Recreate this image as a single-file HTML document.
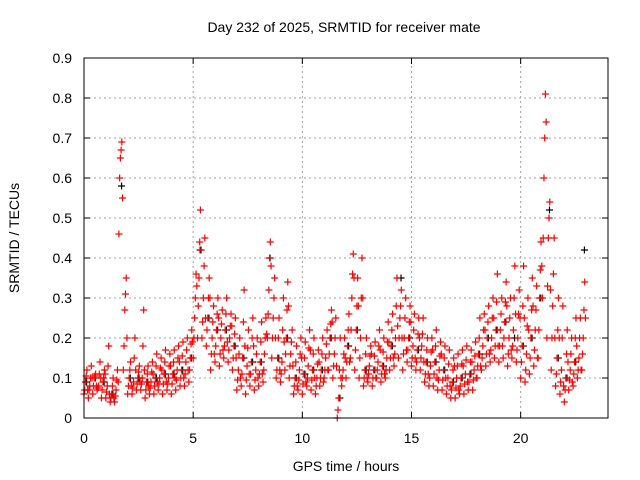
<!DOCTYPE html>
<html><head><meta charset="utf-8"><style>
body{margin:0;background:#fff}
svg{display:block;font-family:"Liberation Sans",sans-serif;font-size:14px;fill:#000}
</style></head><body>
<svg id="chart" width="640" height="480" viewBox="0 0 640 480">
<rect width="640" height="480" fill="#fff"/>
<g id="grid"></g>
<g id="ticks"></g>
<g id="black"></g>
<g id="red"></g>
<rect x="84" y="58" width="524" height="360" fill="none" stroke="#000" stroke-width="1"/>
<text x="344" y="32" text-anchor="middle">Day 232 of 2025, SRMTID for receiver mate</text>
<text x="346" y="471" text-anchor="middle">GPS time / hours</text>
<text transform="translate(19,238) rotate(-90)" text-anchor="middle">SRMTID / TECUs</text>
</svg>
<script>
const xTicks=[0,5,10,15,20];
const yTicks=[0,0.1,0.2,0.3,0.4,0.5,0.6,0.7,0.8,0.9];
const yTickLabels=["0","0.1","0.2","0.3","0.4","0.5","0.6","0.7","0.8","0.9"];
const step=0.2;
const redA=[.06,.05,.06,.07,.05,.05,.04,.04,.46,.12,.06,.06,.07,.07,.05,.06,.06,.07,.06,.07,.06,.07,.08,.08,.09,.15,.2,.2,.18,.12,.14,.13,.15,.14,.12,.07,.08,.06,.08,.07,.08,.09,.2,.15,.1,.09,.12,.1,.06,.07,.06,.08,.07,.06,.08,.1,.12,.1,0,.08,.1,.15,.12,.1,.08,.09,.08,.1,.09,.1,.12,.13,.15,.12,.14,.13,.12,.12,.09,.08,.08,.07,.07,.06,.05,.05,.06,.06,.07,.07,.1,.12,.13,.14,.15,.14,.15,.13,.15,.14,.1,.09,.11,.13,.15,.3,.2,.12,.08,.06,.04,.07,.08,.1,.12];
const redE=[.07,.07,.08,.075,.07,.065,.05,.055,.6,.18,.08,.075,.085,.085,.07,.075,.08,.085,.085,.085,.085,.095,.1,.11,.12,.2,.28,.24,.22,.16,.18,.16,.18,.17,.15,.095,.11,.095,.11,.095,.11,.12,.26,.2,.12,.11,.16,.13,.08,.095,.085,.1,.095,.08,.1,.12,.16,.13,.02,.1,.14,.22,.17,.15,.1,.11,.1,.12,.11,.12,.15,.16,.2,.16,.17,.15,.14,.15,.11,.1,.11,.095,.095,.08,.07,.075,.08,.085,.09,.095,.13,.15,.16,.17,.18,.18,.2,.16,.18,.17,.14,.12,.15,.17,.22,.45,.33,.2,.11,.09,.07,.095,.11,.12,.16];
const redB=[.09,.08,.1,.08,.09,.08,.06,.07,.65,.27,.1,.09,.1,.1,.09,.09,.1,.1,.11,.1,.11,.12,.12,.14,.15,.25,.35,.3,.25,.2,.22,.2,.22,.2,.18,.12,.15,.13,.14,.12,.14,.16,.32,.25,.15,.14,.2,.16,.1,.12,.11,.13,.12,.1,.12,.15,.2,.16,.05,.12,.18,.3,.22,.2,.12,.13,.12,.14,.13,.15,.18,.2,.25,.2,.2,.18,.17,.18,.14,.13,.14,.12,.12,.1,.09,.1,.1,.11,.11,.12,.16,.18,.2,.2,.22,.22,.24,.2,.22,.2,.18,.16,.2,.22,.3,.6,.45,.28,.15,.12,.1,.12,.14,.15,.2];
const redF=[.105,.1,.105,.11,.1,.13,.08,.095,.67,.31,.12,.15,.115,.18,.11,.115,.13,.125,.14,.13,.14,.15,.155,.17,.185,.3,.44,.38,.3,.24,.26,.235,.26,.23,.21,.16,.24,.175,.2,.16,.19,.2,.4,.3,.2,.22,.27,.19,.14,.16,.15,.175,.16,.135,.16,.185,.235,.2,.12,.16,.22,.36,.28,.3,.16,.155,.155,.18,.165,.19,.22,.28,.28,.25,.24,.22,.21,.21,.17,.165,.18,.155,.15,.135,.12,.13,.135,.145,.14,.155,.2,.22,.24,.25,.29,.26,.29,.25,.3,.26,.28,.23,.27,.27,.37,.7,.5,.36,.22,.2,.16,.16,.2,.2,.27];
const redC=[.12,.13,.11,.14,.12,.18,.1,.12,.69,.35,.14,.2,.13,.27,.13,.14,.16,.15,.17,.16,.17,.18,.19,.2,.22,.36,.52,.45,.35,.28,.3,.27,.3,.26,.25,.2,.32,.22,.25,.2,.24,.25,.44,.35,.25,.3,.34,.22,.18,.2,.19,.22,.2,.17,.2,.22,.27,.25,.2,.2,.26,.41,.35,.4,.2,.18,.19,.22,.2,.24,.26,.35,.32,.3,.28,.26,.25,.25,.2,.2,.22,.19,.18,.17,.15,.16,.17,.18,.17,.19,.25,.26,.28,.3,.36,.3,.34,.3,.38,.32,.38,.3,.35,.33,.44,.81,.54,.45,.3,.28,.22,.2,.25,.25,.34];
const redD=[.07,.1,.08,.1,.11,.06,.05,.09,.55,.2,.08,.12,.09,.12,.08,.11,.09,.12,.09,.13,.1,.14,.1,.12,.19,.33,.42,.25,.3,.16,.25,.17,.19,.23,.15,.1,.18,.11,.18,.1,.11,.21,.38,.2,.12,.19,.28,.13,.08,.15,.09,.17,.1,.14,.09,.12,.24,.13,.1,.15,.14,.35,.28,.3,.1,.16,.1,.17,.11,.19,.15,.23,.2,.17,.24,.15,.2,.14,.11,.17,.1,.16,.1,.08,.13,.07,.13,.09,.14,.1,.13,.22,.16,.25,.18,.18,.28,.17,.26,.25,.25,.22,.28,.15,.38,.74,.32,.2,.2,.08,.14,.09,.18,.12,.25];
const blackStep=0.4;
const blackVals=[.09,.1,.09,.06,.58,.1,.1,.09,.1,.11,.11,.12,.15,.42,.25,.22,.22,.18,.15,.14,.14,.4,.15,.2,.1,.11,.12,.12,.2,.05,.18,.22,.12,.12,.13,.18,.35,.2,.17,.14,.14,.12,.09,.1,.11,.16,.2,.22,.24,.2,.18,.2,.3,.52,.15,.1,.14,.42];

const X0=84,X1=608,Y0=418,Y1=58,XMAX=24,YMAX=0.9;
const xs=v=>X0+(X1-X0)*v/XMAX;
const ys=v=>Y0-(Y0-Y1)*v/YMAX;
const NS="http://www.w3.org/2000/svg";
function mk(tag,parent,attrs){const e=document.createElementNS(NS,tag);for(const k in attrs)e.setAttribute(k,attrs[k]);parent.appendChild(e);return e;}
const grid=document.getElementById('grid'),ticks=document.getElementById('ticks');
yTicks.forEach((v,i)=>{
  const y=ys(v);
  if(i>0&&i<yTicks.length-1){const g=mk('line',grid,{x1:X0,x2:X1,y1:y,y2:y,stroke:'#a0a0a0','stroke-dasharray':'2,3'});
  
  }
  const t=mk('path',ticks,{d:`M${X0} ${y}h6M${X1} ${y}h-6`,stroke:'#000'});
  
  
  const l=mk('text',ticks,{x:72,y:y+5,'text-anchor':'end'});l.textContent=yTickLabels[i];
  
  
});
xTicks.forEach(v=>{
  const x=xs(v);
  if(v>0){const g=mk('line',grid,{x1:x,x2:x,y1:Y0,y2:Y1,stroke:'#a0a0a0','stroke-dasharray':'2,3'});
  
  }
  const t=mk('path',ticks,{d:`M${x} ${Y0}v-6M${x} ${Y1}v6`,stroke:'#000'});
  
  
  const l=mk('text',ticks,{x:x,y:443,'text-anchor':'middle'});l.textContent=String(v);
  
  
});
function plus(parent,t,v,color){
  const x=xs(t),y=ys(v);
  const p=mk('path',parent,{d:`M${x-3.5} ${y}h7M${x} ${y-3.5}v7`,stroke:color,'stroke-width':1.2});
  
  
}
const black=document.getElementById('black'),red=document.getElementById('red');
blackVals.forEach((v,i)=>plus(black,i*blackStep+0.12,v,'#000'));
[[redA,0],[redE,0.033],[redB,0.067],[redF,0.1],[redC,0.133],[redD,0.167]].forEach(([arr,off])=>arr.forEach((v,i)=>plus(red,i*step+off,v,'#f00')));
</script>
</body></html>
